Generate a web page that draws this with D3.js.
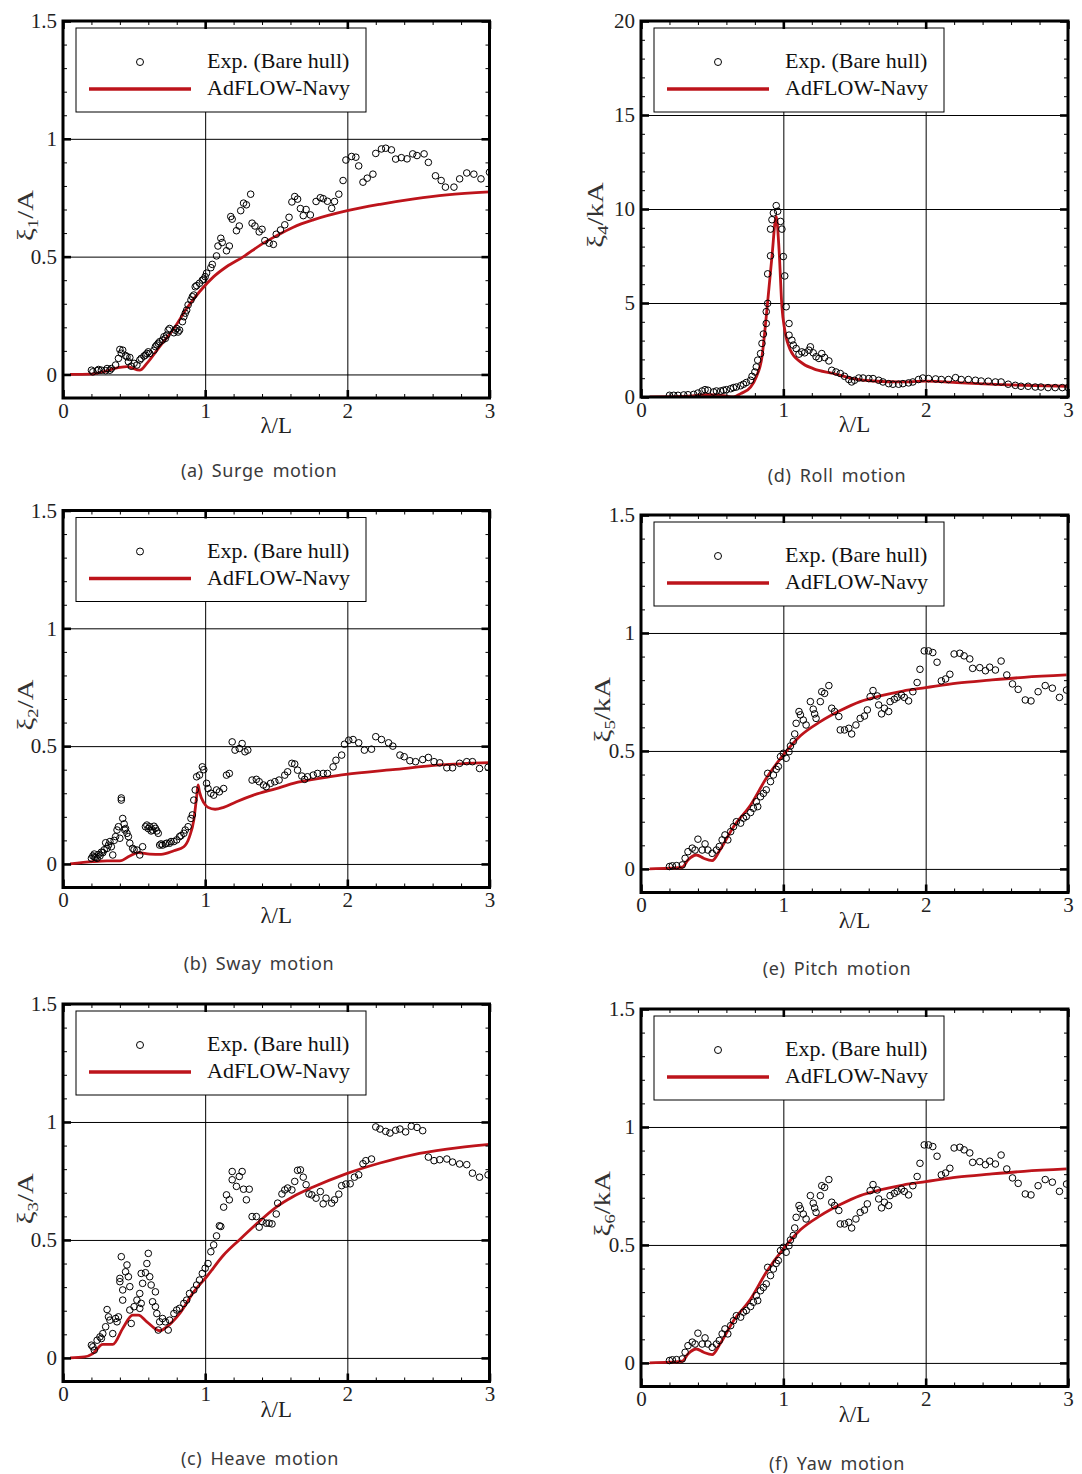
<!DOCTYPE html>
<html lang="en">

<head>
  <meta charset="UTF-8">
  <script src="https://d3js.org/d3.v7.min.js"></script>
  <style>
    body { margin: 0; background: #fff; }
    .caption { font-family: "Noto Sans", "DejaVu Sans", sans-serif; font-size: 18px; fill: #3a3a3a; letter-spacing: 0.6px; word-spacing: 3px; }
  </style>
</head>

<body>
  <svg id="fig" width="1082" height="1474"></svg>

  <script>
    // ---- data (lambda/L, amplitude) ----
    const xTicks = [0, 1, 2, 3];
    const motionYTicks = [0, 0.5, 1, 1.5];
    const rollYTicks = [0, 5, 10, 15, 20];
    const legendLabels = ["Exp. (Bare hull)", "AdFLOW-Navy"];

    const surgeExp = [[0.20,0.018],[0.21,0.011],[0.24,0.016],[0.25,0.021],[0.27,0.018],[0.30,0.016],[0.31,0.025],[0.33,0.018],[0.34,0.025],[0.37,0.04],[0.39,0.068],[0.40,0.106],[0.41,0.09],[0.42,0.103],[0.44,0.08],[0.45,0.075],[0.46,0.054],[0.47,0.072],[0.48,0.035],[0.50,0.047],[0.52,0.04],[0.54,0.061],[0.55,0.068],[0.57,0.078],[0.58,0.082],[0.59,0.089],[0.60,0.096],[0.61,0.089],[0.64,0.103],[0.65,0.118],[0.66,0.125],[0.67,0.132],[0.68,0.139],[0.70,0.146],[0.71,0.16],[0.72,0.153],[0.73,0.167],[0.74,0.188],[0.75,0.195],[0.78,0.177],[0.79,0.188],[0.80,0.195],[0.81,0.18],[0.82,0.188],[0.84,0.224],[0.85,0.245],[0.86,0.26],[0.87,0.273],[0.88,0.295],[0.90,0.316],[0.91,0.33],[0.92,0.337],[0.93,0.372],[0.94,0.377],[0.96,0.387],[0.98,0.40],[0.99,0.404],[1.0,0.415],[1.01,0.43],[1.04,0.453],[1.05,0.467],[1.08,0.503],[1.09,0.545],[1.11,0.578],[1.12,0.56],[1.15,0.525],[1.17,0.545],[1.18,0.67],[1.19,0.659],[1.22,0.61],[1.24,0.63],[1.25,0.695],[1.27,0.727],[1.29,0.72],[1.32,0.765],[1.33,0.642],[1.35,0.63],[1.38,0.605],[1.40,0.616],[1.42,0.568],[1.45,0.557],[1.48,0.552],[1.50,0.595],[1.53,0.613],[1.56,0.635],[1.59,0.667],[1.61,0.732],[1.63,0.755],[1.65,0.744],[1.67,0.704],[1.69,0.674],[1.71,0.70],[1.74,0.677],[1.78,0.734],[1.81,0.75],[1.83,0.746],[1.86,0.735],[1.89,0.705],[1.91,0.734],[1.94,0.765],[1.97,0.823],[1.99,0.91],[2.03,0.925],[2.06,0.922],[2.08,0.885],[2.11,0.816],[2.14,0.833],[2.18,0.85],[2.20,0.938],[2.24,0.957],[2.27,0.96],[2.31,0.953],[2.34,0.914],[2.38,0.92],[2.42,0.915],[2.46,0.936],[2.49,0.929],[2.54,0.936],[2.57,0.90],[2.62,0.843],[2.66,0.823],[2.69,0.795],[2.75,0.795],[2.79,0.83],[2.84,0.855],[2.89,0.85],[2.94,0.83],[3.0,0.858]];
    const surgeCfd = [[0.05,0],[0.19,0.001],[0.28,0.011],[0.40,0.03],[0.45,0.033],[0.54,0.018],[0.59,0.047],[0.68,0.118],[0.78,0.195],[0.87,0.28],[0.96,0.351],[1.06,0.415],[1.15,0.457],[1.27,0.50],[1.39,0.55],[1.50,0.588],[1.62,0.625],[1.76,0.656],[2.0,0.695],[2.23,0.722],[2.47,0.745],[2.70,0.762],[3.0,0.775]];

    const swayExp = [[0.20,0.024],[0.21,0.034],[0.22,0.042],[0.22,0.03],[0.23,0.028],[0.24,0.024],[0.25,0.04],[0.26,0.034],[0.27,0.05],[0.28,0.048],[0.29,0.06],[0.30,0.09],[0.31,0.066],[0.32,0.08],[0.33,0.095],[0.34,0.073],[0.35,0.038],[0.36,0.10],[0.37,0.116],[0.38,0.144],[0.39,0.158],[0.40,0.109],[0.41,0.271],[0.41,0.28],[0.42,0.193],[0.43,0.17],[0.435,0.144],[0.44,0.15],[0.45,0.13],[0.46,0.116],[0.47,0.088],[0.49,0.066],[0.50,0.06],[0.52,0.059],[0.54,0.038],[0.56,0.073],[0.58,0.158],[0.59,0.165],[0.60,0.15],[0.61,0.158],[0.62,0.14],[0.63,0.144],[0.64,0.16],[0.65,0.151],[0.66,0.14],[0.67,0.13],[0.68,0.08],[0.69,0.085],[0.70,0.08],[0.72,0.085],[0.73,0.088],[0.75,0.088],[0.76,0.095],[0.78,0.095],[0.80,0.102],[0.82,0.116],[0.83,0.12],[0.85,0.13],[0.86,0.144],[0.88,0.158],[0.90,0.193],[0.91,0.208],[0.92,0.271],[0.93,0.314],[0.94,0.37],[0.96,0.377],[0.98,0.412],[0.99,0.40],[1.01,0.342],[1.02,0.32],[1.04,0.30],[1.06,0.292],[1.08,0.314],[1.10,0.306],[1.13,0.32],[1.15,0.377],[1.17,0.384],[1.19,0.518],[1.21,0.483],[1.24,0.49],[1.26,0.511],[1.28,0.476],[1.30,0.483],[1.33,0.356],[1.36,0.359],[1.38,0.349],[1.41,0.335],[1.43,0.328],[1.46,0.342],[1.49,0.349],[1.52,0.356],[1.56,0.377],[1.58,0.391],[1.61,0.427],[1.63,0.424],[1.65,0.398],[1.68,0.373],[1.70,0.359],[1.72,0.37],[1.76,0.377],[1.79,0.384],[1.83,0.384],[1.86,0.384],[1.90,0.412],[1.92,0.44],[1.96,0.462],[1.98,0.508],[2.01,0.525],[2.04,0.528],[2.08,0.514],[2.12,0.483],[2.17,0.487],[2.20,0.54],[2.24,0.528],[2.29,0.514],[2.32,0.50],[2.37,0.462],[2.40,0.455],[2.44,0.438],[2.48,0.434],[2.53,0.443],[2.57,0.452],[2.61,0.434],[2.65,0.429],[2.70,0.408],[2.74,0.408],[2.79,0.427],[2.84,0.434],[2.88,0.434],[2.93,0.405],[2.99,0.41]];
    const swayCfd = [[0.05,0],[0.21,0.01],[0.31,0.013],[0.40,0.013],[0.47,0.034],[0.53,0.048],[0.61,0.042],[0.69,0.041],[0.78,0.056],[0.85,0.073],[0.89,0.116],[0.92,0.186],[0.94,0.285],[0.95,0.335],[0.96,0.306],[0.99,0.26],[1.02,0.24],[1.07,0.232],[1.13,0.24],[1.22,0.264],[1.34,0.292],[1.50,0.32],[1.62,0.342],[1.85,0.367],[1.99,0.38],[2.32,0.40],[2.65,0.42],[3.0,0.43]];

    const heaveExp = [[0.20,0.054],[0.21,0.047],[0.22,0.033],[0.24,0.075],[0.26,0.089],[0.27,0.082],[0.28,0.103],[0.30,0.132],[0.31,0.205],[0.32,0.174],[0.33,0.16],[0.35,0.103],[0.37,0.167],[0.38,0.153],[0.39,0.174],[0.40,0.323],[0.40,0.337],[0.41,0.429],[0.42,0.245],[0.42,0.288],[0.44,0.365],[0.45,0.394],[0.46,0.344],[0.47,0.302],[0.47,0.203],[0.48,0.146],[0.50,0.217],[0.52,0.245],[0.54,0.21],[0.54,0.273],[0.55,0.231],[0.55,0.358],[0.56,0.316],[0.58,0.361],[0.59,0.40],[0.60,0.443],[0.61,0.344],[0.62,0.309],[0.63,0.238],[0.65,0.28],[0.65,0.217],[0.66,0.188],[0.67,0.118],[0.68,0.153],[0.70,0.167],[0.72,0.153],[0.74,0.118],[0.75,0.16],[0.78,0.188],[0.80,0.203],[0.82,0.21],[0.85,0.231],[0.87,0.245],[0.89,0.273],[0.92,0.288],[0.94,0.309],[0.96,0.33],[0.98,0.358],[1.00,0.38],[1.02,0.40],[1.04,0.45],[1.06,0.479],[1.08,0.517],[1.10,0.56],[1.11,0.557],[1.13,0.639],[1.15,0.691],[1.17,0.67],[1.19,0.79],[1.19,0.755],[1.22,0.727],[1.24,0.769],[1.26,0.79],[1.27,0.715],[1.29,0.67],[1.31,0.715],[1.33,0.599],[1.36,0.599],[1.38,0.554],[1.40,0.578],[1.43,0.571],[1.45,0.571],[1.47,0.568],[1.50,0.61],[1.51,0.656],[1.54,0.695],[1.56,0.712],[1.58,0.72],[1.61,0.712],[1.63,0.748],[1.65,0.795],[1.67,0.797],[1.69,0.766],[1.71,0.734],[1.73,0.695],[1.75,0.691],[1.78,0.677],[1.81,0.705],[1.83,0.653],[1.85,0.677],[1.89,0.656],[1.91,0.67],[1.94,0.694],[1.96,0.73],[1.99,0.737],[2.02,0.738],[2.05,0.766],[2.08,0.776],[2.11,0.823],[2.13,0.836],[2.17,0.843],[2.20,0.979],[2.23,0.97],[2.27,0.96],[2.30,0.953],[2.34,0.965],[2.37,0.97],[2.41,0.958],[2.45,0.982],[2.49,0.977],[2.53,0.963],[2.57,0.851],[2.61,0.836],[2.65,0.84],[2.70,0.843],[2.74,0.83],[2.79,0.822],[2.84,0.819],[2.88,0.783],[2.93,0.766],[2.99,0.776]];
    const heaveCfd = [[0.05,0],[0.15,0.004],[0.21,0.018],[0.28,0.057],[0.35,0.057],[0.42,0.125],[0.49,0.181],[0.53,0.181],[0.59,0.153],[0.68,0.115],[0.73,0.132],[0.82,0.188],[0.92,0.28],[1.01,0.344],[1.13,0.436],[1.24,0.50],[1.38,0.578],[1.50,0.639],[1.62,0.684],[1.76,0.724],[1.99,0.78],[2.23,0.826],[2.46,0.861],[2.70,0.885],[3.0,0.905]];

    const rollExp = [[0.20,0.09],[0.23,0.09],[0.26,0.09],[0.30,0.11],[0.33,0.12],[0.37,0.14],[0.40,0.21],[0.43,0.32],[0.45,0.39],[0.47,0.36],[0.51,0.27],[0.53,0.32],[0.56,0.32],[0.58,0.36],[0.60,0.39],[0.63,0.44],[0.65,0.50],[0.67,0.53],[0.70,0.60],[0.72,0.68],[0.74,0.77],[0.77,0.89],[0.78,1.10],[0.80,1.33],[0.81,1.60],[0.82,1.96],[0.84,2.31],[0.85,2.85],[0.86,3.35],[0.88,3.91],[0.88,4.54],[0.89,4.98],[0.89,6.55],[0.91,7.51],[0.91,8.93],[0.92,9.43],[0.93,9.79],[0.95,10.18],[0.96,9.88],[0.98,9.34],[0.99,8.93],[1.00,7.47],[1.01,6.44],[1.02,4.80],[1.04,3.91],[1.04,3.29],[1.06,3.02],[1.07,2.76],[1.09,2.58],[1.11,2.28],[1.13,2.40],[1.15,2.35],[1.18,2.49],[1.19,2.67],[1.21,2.35],[1.23,2.14],[1.25,2.05],[1.27,2.31],[1.29,2.10],[1.32,1.92],[1.34,1.42],[1.37,1.33],[1.40,1.25],[1.43,1.10],[1.46,0.93],[1.48,0.80],[1.50,0.89],[1.53,1.01],[1.56,1.01],[1.60,0.98],[1.63,0.98],[1.67,0.89],[1.70,0.80],[1.74,0.71],[1.77,0.68],[1.81,0.68],[1.84,0.71],[1.88,0.75],[1.91,0.80],[1.95,0.93],[1.98,1.01],[2.02,0.98],[2.07,0.96],[2.11,0.93],[2.16,0.93],[2.21,1.03],[2.25,0.93],[2.30,0.93],[2.35,0.89],[2.39,0.85],[2.44,0.84],[2.49,0.80],[2.53,0.80],[2.58,0.68],[2.63,0.62],[2.67,0.57],[2.72,0.57],[2.77,0.53],[2.81,0.53],[2.86,0.50],[2.91,0.50],[2.96,0.50],[3.0,0.50]];
    const rollCfd = [[0.06,0],[0.34,0.04],[0.46,0.12],[0.58,0.07],[0.65,0.0],[0.70,0.18],[0.77,0.53],[0.81,1.07],[0.85,2.14],[0.88,4.27],[0.92,7.47],[0.95,9.61],[0.97,7.83],[0.99,4.80],[1.01,3.56],[1.05,2.49],[1.12,1.87],[1.21,1.51],[1.35,1.25],[1.49,0.98],[1.63,0.85],[1.82,0.80],[2.0,0.84],[2.22,0.77],[2.45,0.68],[2.69,0.62],[3.0,0.57]];

    const pitchExp = [[0.20,0.01],[0.22,0.013],[0.25,0.014],[0.29,0.017],[0.31,0.045],[0.33,0.073],[0.36,0.088],[0.38,0.08],[0.40,0.126],[0.43,0.08],[0.45,0.106],[0.47,0.08],[0.50,0.066],[0.53,0.08],[0.55,0.095],[0.57,0.123],[0.59,0.144],[0.61,0.123],[0.63,0.158],[0.65,0.179],[0.67,0.20],[0.70,0.194],[0.72,0.215],[0.74,0.222],[0.77,0.239],[0.79,0.257],[0.81,0.285],[0.82,0.264],[0.84,0.306],[0.86,0.32],[0.88,0.335],[0.89,0.405],[0.91,0.37],[0.93,0.398],[0.95,0.422],[0.965,0.434],[0.98,0.476],[1.00,0.49],[1.02,0.469],[1.04,0.497],[1.05,0.521],[1.07,0.54],[1.08,0.572],[1.09,0.617],[1.11,0.667],[1.12,0.653],[1.14,0.631],[1.16,0.61],[1.19,0.709],[1.21,0.677],[1.22,0.657],[1.23,0.638],[1.26,0.709],[1.27,0.751],[1.29,0.744],[1.32,0.777],[1.34,0.681],[1.36,0.667],[1.39,0.646],[1.40,0.589],[1.43,0.589],[1.46,0.596],[1.48,0.572],[1.51,0.61],[1.54,0.638],[1.57,0.648],[1.59,0.674],[1.61,0.73],[1.63,0.756],[1.66,0.733],[1.67,0.695],[1.69,0.657],[1.71,0.681],[1.74,0.667],[1.75,0.709],[1.78,0.719],[1.80,0.727],[1.83,0.737],[1.85,0.727],[1.88,0.712],[1.91,0.751],[1.94,0.79],[1.96,0.846],[1.99,0.924],[2.02,0.924],[2.05,0.917],[2.08,0.876],[2.11,0.797],[2.14,0.805],[2.17,0.825],[2.20,0.911],[2.24,0.914],[2.27,0.903],[2.31,0.89],[2.33,0.85],[2.38,0.853],[2.42,0.84],[2.45,0.855],[2.49,0.843],[2.53,0.881],[2.57,0.822],[2.61,0.784],[2.65,0.761],[2.70,0.716],[2.74,0.712],[2.79,0.751],[2.84,0.777],[2.89,0.766],[2.94,0.727],[2.99,0.758]];
    const pitchCfd = [[0.06,0],[0.20,0.003],[0.29,0.007],[0.33,0.038],[0.39,0.059],[0.44,0.045],[0.50,0.035],[0.555,0.08],[0.65,0.179],[0.77,0.271],[0.88,0.384],[1.00,0.483],[1.12,0.564],[1.26,0.624],[1.40,0.671],[1.54,0.709],[1.68,0.733],[1.84,0.754],[2.0,0.768],[2.22,0.787],[2.45,0.80],[2.69,0.812],[2.99,0.822]];

    // the yaw panel in the figure repeats the pitch data point for point
    const yawExp = pitchExp;
    const yawCfd = pitchCfd;

    // ---- layout ----
    const panels = [
      { exp: surgeExp, cfd: surgeCfd, left: 63, right: 489.5, top: 21, bottom: 398, yDomain: [-0.1, 1.5], yTicks: motionYTicks, yMinor: 0.1, sub: "1", den: "/A", titleDx: -30, caption: "(a) Surge motion", capX: 259, capY: 477 },
      { exp: swayExp, cfd: swayCfd, left: 63, right: 489.5, top: 510.5, bottom: 887.5, yDomain: [-0.1, 1.5], yTicks: motionYTicks, yMinor: 0.1, sub: "2", den: "/A", titleDx: -30, caption: "(b) Sway motion", capX: 259, capY: 970 },
      { exp: heaveExp, cfd: heaveCfd, left: 63, right: 489.5, top: 1004, bottom: 1381.5, yDomain: [-0.1, 1.5], yTicks: motionYTicks, yMinor: 0.1, sub: "3", den: "/A", titleDx: -30, caption: "(c) Heave motion", capX: 260, capY: 1465 },
      { exp: rollExp, cfd: rollCfd, left: 641, right: 1068, top: 21, bottom: 397, yDomain: [0, 20], yTicks: rollYTicks, yMinor: 1, sub: "4", den: "/kA", titleDx: -38, caption: "(d) Roll motion", capX: 837, capY: 482 },
      { exp: pitchExp, cfd: pitchCfd, left: 641, right: 1068, top: 515, bottom: 892.5, yDomain: [-0.1, 1.5], yTicks: motionYTicks, yMinor: 0.1, sub: "5", den: "/kA", titleDx: -31, caption: "(e) Pitch motion", capX: 837, capY: 975 },
      { exp: yawExp, cfd: yawCfd, left: 641, right: 1068, top: 1009, bottom: 1386.5, yDomain: [-0.1, 1.5], yTicks: motionYTicks, yMinor: 0.1, sub: "6", den: "/kA", titleDx: -31, caption: "(f) Yaw motion", capX: 837, capY: 1470 }
    ];

    const red = "#bd141b";
    const serif = '"Liberation Serif", "Times New Roman", serif';
    const svg = d3.select("#fig");

    function styleAxis(sel, width) {
      sel.select(".domain").remove();
      sel.selectAll("line").attr("stroke", "#000").attr("stroke-width", width);
      sel.attr("font-family", serif).attr("font-size", 21);
    }

    panels.forEach(function (p, i) {
      const w = p.right - p.left;
      const h = p.bottom - p.top;
      const x = d3.scaleLinear().domain([0, 3]).range([0, w]);
      const y = d3.scaleLinear().domain(p.yDomain).range([h, 0]);
      const g = svg.append("g").attr("transform", "translate(" + p.left + "," + p.top + ")");

      const clipId = "clip" + i;
      g.append("clipPath").attr("id", clipId)
        .append("rect").attr("width", w).attr("height", h);

      // grid lines at the inner major ticks
      const yGrid = p.yTicks.filter(v => v > p.yDomain[0] && v < p.yDomain[1]);
      g.append("g").attr("transform", "translate(0," + h + ")")
        .call(d3.axisBottom(x).tickValues([1, 2]).tickSize(-h).tickFormat(""))
        .call(s => styleAxis(s, 1));
      g.append("g")
        .call(d3.axisLeft(y).tickValues(yGrid).tickSize(-w).tickFormat(""))
        .call(s => styleAxis(s, 1));

      // data
      const plot = g.append("g").attr("clip-path", "url(#" + clipId + ")");
      plot.append("path").datum(p.cfd)
        .attr("fill", "none").attr("stroke", red).attr("stroke-width", 2.8)
        .attr("stroke-linejoin", "round")
        .attr("d", d3.line().x(d => x(d[0])).y(d => y(d[1])).curve(d3.curveMonotoneX));
      plot.selectAll("circle.exp").data(p.exp)
        .join("circle")
        .attr("class", "exp")
        .attr("cx", d => x(d[0]))
        .attr("cy", d => y(d[1]))
        .attr("r", 3.3)
        .attr("fill", "none")
        .attr("stroke", "#000")
        .attr("stroke-width", 1);

      // legend
      const lg = g.append("g").attr("transform", "translate(13,7)");
      lg.append("rect").attr("width", 290).attr("height", 84)
        .attr("fill", "#fff").attr("stroke", "#000").attr("stroke-width", 1);
      lg.append("circle").attr("cx", 64).attr("cy", 34).attr("r", 3.5)
        .attr("fill", "none").attr("stroke", "#000").attr("stroke-width", 1);
      lg.append("line").attr("x1", 13).attr("x2", 115).attr("y1", 61).attr("y2", 61)
        .attr("stroke", red).attr("stroke-width", 3.4);
      lg.selectAll("text").data(legendLabels).join("text")
        .attr("x", 131)
        .attr("y", (d, k) => 40 + k * 27)
        .style("font-family", serif)
        .style("font-size", "22px")
        .attr("fill", "#111")
        .text(d => d);

      // frame
      g.append("rect").attr("width", w).attr("height", h)
        .attr("fill", "none").attr("stroke", "#000").attr("stroke-width", 3);

      // ticks
      const xMinor = d3.range(0.2, 3, 0.2).filter(v => Math.abs(v - Math.round(v)) > 1e-6);
      const yMinor = d3.range(p.yDomain[0] + p.yMinor, p.yDomain[1], p.yMinor)
        .filter(v => !p.yTicks.some(t => Math.abs(t - v) < 1e-6) && v > p.yDomain[0] + 1e-6);

      const left = g.append("g")
        .call(d3.axisLeft(y).tickValues(p.yTicks).tickSize(-8).tickPadding(6).tickFormat(d => String(d)))
        .call(s => styleAxis(s, 2.6));
      left.selectAll("text").style("font-family", serif).style("font-size", "21px").attr("fill", "#222");
      g.append("g")
        .call(d3.axisLeft(y).tickValues(yMinor).tickSize(-4).tickFormat(""))
        .call(s => styleAxis(s, 1));
      g.append("g").attr("transform", "translate(" + w + ",0)")
        .call(d3.axisRight(y).tickValues(p.yTicks).tickSize(-8).tickFormat(""))
        .call(s => styleAxis(s, 2.6));
      g.append("g").attr("transform", "translate(" + w + ",0)")
        .call(d3.axisRight(y).tickValues(yMinor).tickSize(-4).tickFormat(""))
        .call(s => styleAxis(s, 1));

      const bottom = g.append("g").attr("transform", "translate(0," + h + ")")
        .call(d3.axisBottom(x).tickValues(xTicks).tickSize(-8).tickPadding(5).tickFormat(d => String(d)))
        .call(s => styleAxis(s, 2.6));
      bottom.selectAll("text").style("font-family", serif).style("font-size", "21px").attr("fill", "#222");
      g.append("g").attr("transform", "translate(0," + h + ")")
        .call(d3.axisBottom(x).tickValues(xMinor).tickSize(-4).tickFormat(""))
        .call(s => styleAxis(s, 1));
      g.append("g")
        .call(d3.axisTop(x).tickValues(xTicks).tickSize(-8).tickFormat(""))
        .call(s => styleAxis(s, 2.6));
      g.append("g")
        .call(d3.axisTop(x).tickValues(xMinor).tickSize(-4).tickFormat(""))
        .call(s => styleAxis(s, 1));

      // axis titles
      g.append("text")
        .attr("x", w / 2).attr("y", h + 35)
        .attr("text-anchor", "middle")
        .style("font-family", serif).style("font-size", "23px")
        .attr("fill", "#222")
        .text("λ/L");
      const yt = g.append("text")
        .attr("transform", "translate(" + p.titleDx + "," + (h / 2 + 6) + ") rotate(-90) scale(1.25,1)")
        .attr("text-anchor", "middle")
        .style("font-family", serif).style("font-size", "23px")
        .attr("fill", "#333");
      yt.append("tspan").text("ξ");
      yt.append("tspan").style("font-size", "15px").attr("dy", 5).text(p.sub);
      yt.append("tspan").attr("dy", -5).text(p.den);

      // caption
      svg.append("text").attr("class", "caption")
        .attr("x", p.capX).attr("y", p.capY)
        .attr("text-anchor", "middle")
        .text(p.caption);
    });
  </script>
</body>

</html>
